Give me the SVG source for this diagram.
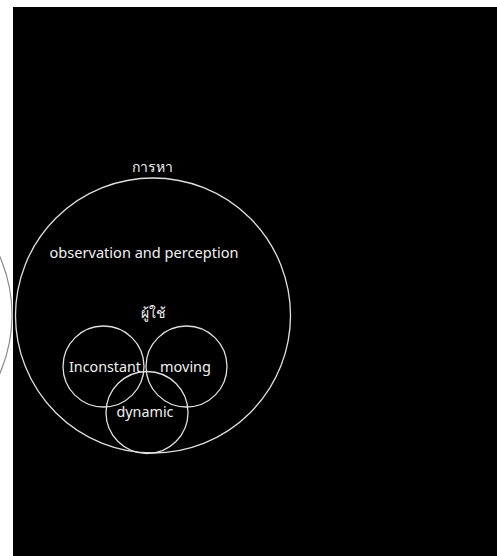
<svg xmlns="http://www.w3.org/2000/svg" width="497" height="556" viewBox="0 0 497 556">
<style>
.ring{fill:none;stroke:#e0e0e0;stroke-width:1.3}
.t{fill:#f2f2f2;font-family:"Noto Sans","DejaVu Sans",sans-serif;text-anchor:middle}
</style>
<rect x="0" y="0" width="497" height="556" fill="#ffffff"/>
<circle cx="-134" cy="315" r="146" fill="none" stroke="#8a8a8a" stroke-width="1.2"/>
<rect x="13" y="7" width="484" height="549" fill="#000000"/>
<g id="outer">
<circle class="ring" cx="153" cy="315.5" r="137.5"/>
<text class="t" x="152" y="172" font-size="14">การหา</text>
<text class="t" x="144" y="258" font-size="14" textLength="189" lengthAdjust="spacingAndGlyphs">observation and perception</text>
<text class="t" x="153" y="318" font-size="14">ผู้ใช้</text>
</g>
<g id="inconstant">
<circle class="ring" cx="103.5" cy="366.5" r="40.5"/>
<text class="t" x="105" y="372" font-size="14" textLength="72" lengthAdjust="spacingAndGlyphs">Inconstant</text>
</g>
<g id="moving">
<circle class="ring" cx="186.5" cy="366.5" r="40.5"/>
<text class="t" x="185.5" y="372" font-size="14" textLength="51" lengthAdjust="spacingAndGlyphs">moving</text>
</g>
<g id="dynamic">
<circle class="ring" cx="147" cy="412.5" r="41"/>
<text class="t" x="145" y="417" font-size="14" textLength="57" lengthAdjust="spacingAndGlyphs">dynamic</text>
</g>
<g id="connectors"/>
</svg>
